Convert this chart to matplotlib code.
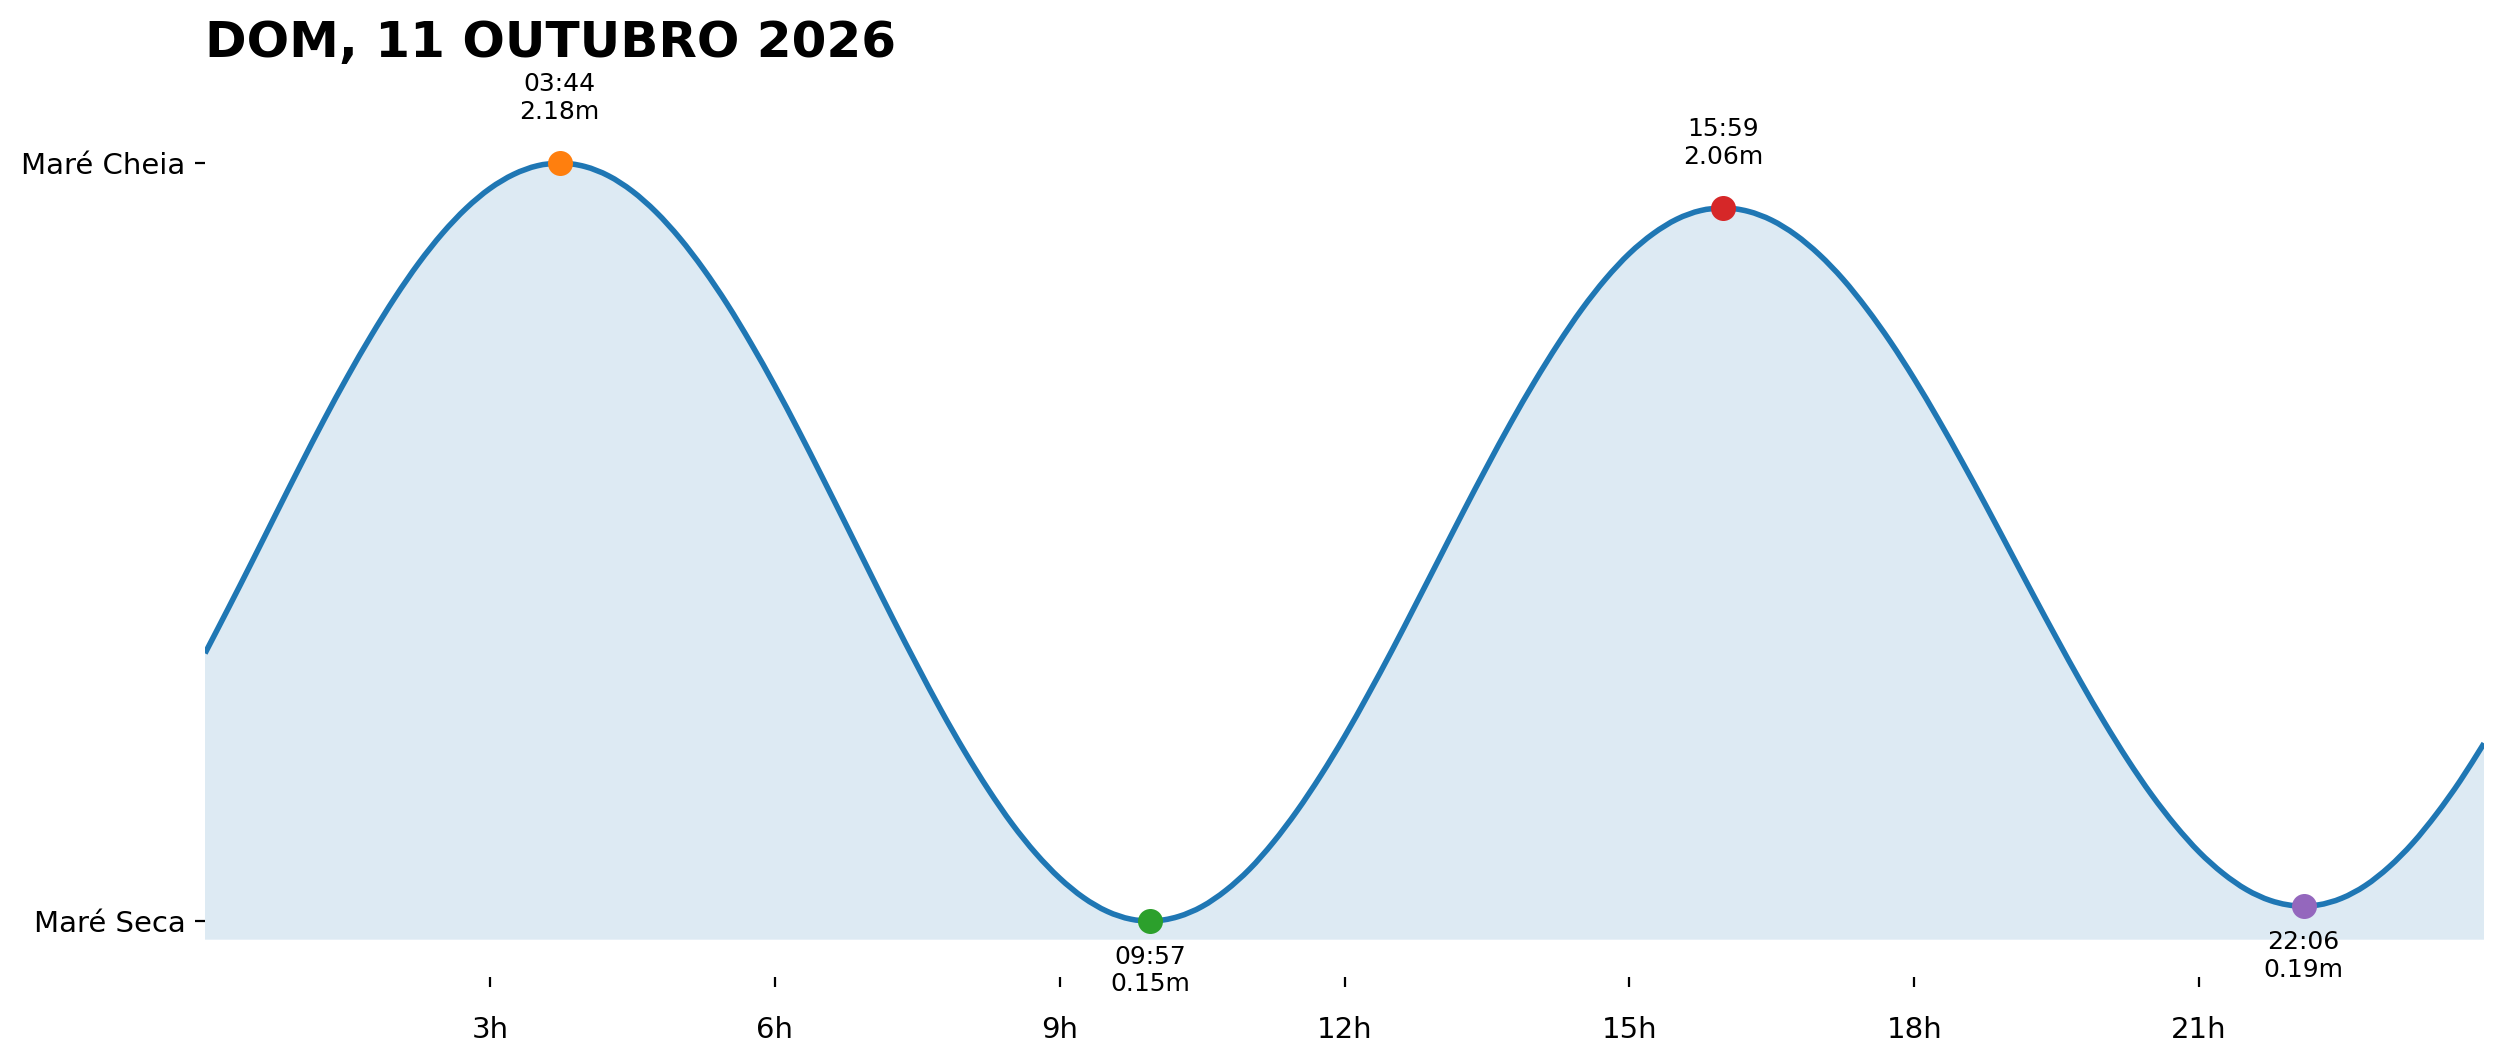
import matplotlib
matplotlib.use("Agg")
import matplotlib.pyplot as plt
import numpy as np
from matplotlib.path import Path
from matplotlib.patches import PathPatch

# altura da maré (hora, metros)
tide_times = [
    "00:00", "00:15", "00:30", "00:45", "01:00", "01:15", "01:30", "01:45",
    "02:00", "02:15", "02:30", "02:45", "03:00", "03:15", "03:30", "03:44",
    "04:00", "04:15", "04:30", "04:45", "05:00", "05:15", "05:30", "05:45",
    "06:00", "06:15", "06:30", "06:45", "07:00", "07:15", "07:30", "07:45",
    "08:00", "08:15", "08:30", "08:45", "09:00", "09:15", "09:30", "09:45",
    "09:57", "10:15", "10:30", "10:45", "11:00", "11:15", "11:30",
    "11:45", "12:00", "12:15", "12:30", "12:45", "13:00", "13:15", "13:30",
    "13:45", "14:00", "14:15", "14:30", "14:45", "15:00", "15:15", "15:30",
    "15:45", "15:59", "16:15", "16:30", "16:45", "17:00", "17:15",
    "17:30", "17:45", "18:00", "18:15", "18:30", "18:45", "19:00", "19:15",
    "19:30", "19:45", "20:00", "20:15", "20:30", "20:45", "21:00", "21:15",
    "21:30", "21:45", "22:06", "22:15", "22:30", "22:45", "23:00",
    "23:15", "23:30", "23:45", "24:00",
]
tide_heights = [
    0.867, 0.990, 1.115, 1.242, 1.368, 1.491, 1.608, 1.718,
    1.820, 1.912, 1.992, 2.059, 2.112, 2.150, 2.173, 2.180,
    2.171, 2.146, 2.105, 2.049, 1.979, 1.896, 1.802, 1.697,
    1.584, 1.464, 1.339, 1.212, 1.084, 0.957, 0.834, 0.715,
    0.604, 0.502, 0.410, 0.331, 0.265, 0.213, 0.176, 0.155,
    0.150, 0.162, 0.189, 0.232, 0.289, 0.361, 0.445,
    0.540, 0.644, 0.757, 0.875, 0.998, 1.122, 1.246, 1.367,
    1.484, 1.594, 1.696, 1.789, 1.870, 1.938, 1.991, 2.030,
    2.053, 2.060, 2.051, 2.027, 1.988, 1.935, 1.869,
    1.790, 1.701, 1.602, 1.495, 1.382, 1.265, 1.145, 1.025,
    0.907, 0.792, 0.683, 0.581, 0.488, 0.406, 0.335, 0.278,
    0.234, 0.205, 0.190, 0.193, 0.211, 0.245, 0.295,
    0.359, 0.437, 0.526, 0.626,
]

# preia-mar / baixa-mar
ext_times = ["03:44", "09:57", "15:59", "22:06"]
ext_heights = [2.18, 0.15, 2.06, 0.19]
ext_high = [True, False, True, False]
ext_colors = ["tab:orange", "tab:green", "tab:red", "tab:purple"]

tick_hours = [3, 6, 9, 12, 15, 18, 21]
tick_labels = [f"{h}h" for h in tick_hours]
title = "DOM, 11 OUTUBRO 2026"


def to_hours(s):
    hh, mm = s.split(":")
    return int(hh) + int(mm) / 60


t = np.array([to_hours(s) for s in tide_times])
h = np.array(tide_heights)
te = [to_hours(s) for s in ext_times]

# curva suave (bezier) passando pelos pontos lidos
slope = np.gradient(h, t)
verts = [(t[0], h[0])]
codes = [Path.MOVETO]
for i in range(len(t) - 1):
    dt = t[i + 1] - t[i]
    verts += [(t[i] + dt / 3, h[i] + slope[i] * dt / 3),
              (t[i + 1] - dt / 3, h[i + 1] - slope[i + 1] * dt / 3),
              (t[i + 1], h[i + 1])]
    codes += [Path.CURVE4] * 3

base = min(ext_heights) - 0.05
fill_verts = verts + [(t[-1], base), (t[0], base), (t[0], h[0])]
fill_codes = codes + [Path.LINETO, Path.LINETO, Path.CLOSEPOLY]

fig = plt.figure(figsize=(12.505, 5.31), dpi=200)
ax = fig.add_axes([0.08197, 0.0800, 0.91124, 0.8437])

ax.add_patch(PathPatch(Path(fill_verts, fill_codes), facecolor="tab:blue",
                       alpha=0.15, linewidth=0))
ax.add_patch(PathPatch(Path(verts, codes), facecolor="none",
                       edgecolor="tab:blue", lw=2))

for x, y, hi, c, s in zip(te, ext_heights, ext_high, ext_colors, ext_times):
    ax.plot(x, y, "o", color=c, ms=8, zorder=3)
    if hi:
        ax.annotate(f"{s}\n{y:.2f}m", (x, y), xytext=(0, 14), textcoords="offset points",
                    ha="center", va="bottom", fontsize=9)
    else:
        ax.annotate(f"{s}\n{y:.2f}m", (x, y), xytext=(0, -8.5), textcoords="offset points",
                    ha="center", va="top", fontsize=9)

ax.set_xlim(0, 24)
ax.set_ylim(0, 2.4)
ax.set_xticks(tick_hours)
ax.set_xticklabels(tick_labels)
ax.set_yticks([max(ext_heights), min(ext_heights)])
ax.set_yticklabels(["Maré Cheia", "Maré Seca"])
ax.tick_params(axis="x", labelsize=10.5, pad=10.5)
ax.tick_params(axis="y", labelsize=10.5)
for sp in ax.spines.values():
    sp.set_visible(False)

fig.text(205 / 2501, (1062 - 57) / 1062, title, fontsize=18, fontweight="bold",
         ha="left", va="baseline")

fig.savefig("out.png", dpi=200)
